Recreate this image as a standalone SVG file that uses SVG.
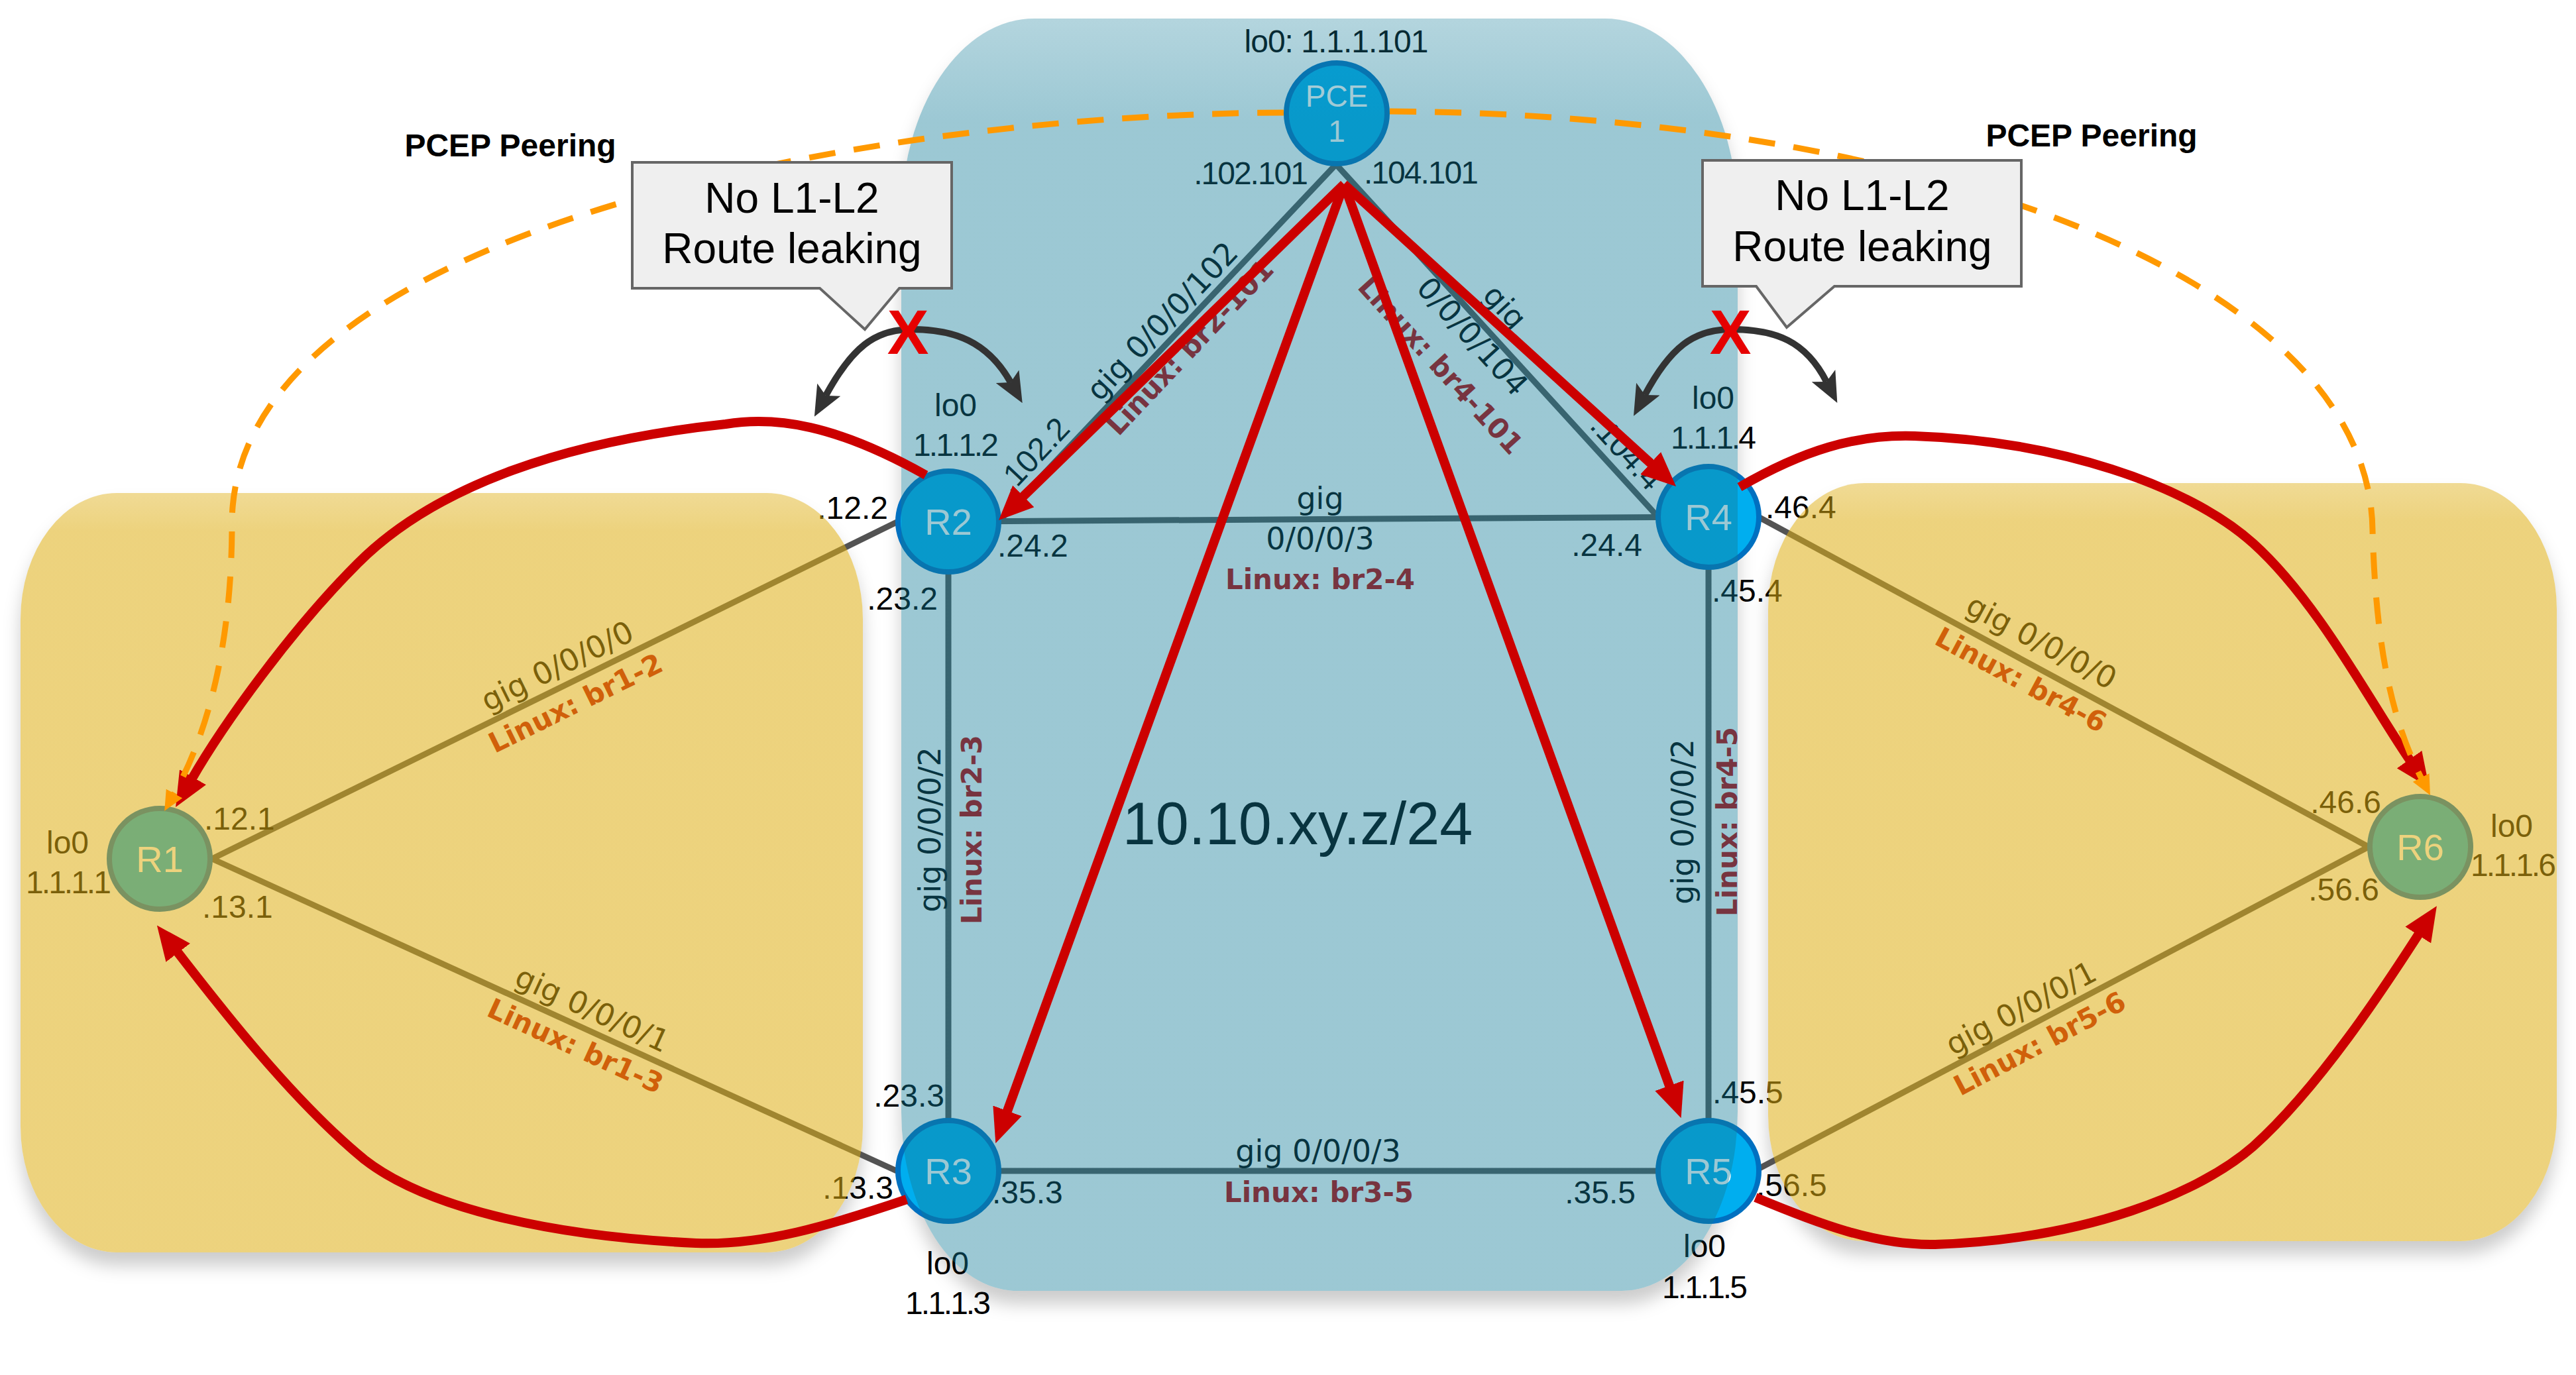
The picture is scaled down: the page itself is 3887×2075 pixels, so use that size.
<svg xmlns="http://www.w3.org/2000/svg" width="3887" height="2075" viewBox="0 0 3887 2075">
<style>
.ip{font-family:"Liberation Sans",Arial,sans-serif;font-size:48px;fill:#000}
.one{letter-spacing:-3px}
.lk{font-family:"DejaVu Sans",sans-serif;font-size:46px;fill:#000}
.lx{font-family:"DejaVu Sans",sans-serif;font-size:42px;font-weight:bold;fill:#c00000}
.mid{text-anchor:middle}
.end{text-anchor:end}
.nd{fill:#00aeef;stroke:#0070c0;stroke-width:8}
.nt{font-family:"Liberation Sans",Arial,sans-serif;font-size:56px;fill:#fff;text-anchor:middle}
.link{stroke:#535353;stroke-width:9;fill:none}
.red{stroke:#cc0000;stroke-width:14;fill:none;marker-end:url(#redHead)}
.org{stroke:#ff9900;stroke-width:9;fill:none;stroke-dasharray:40 28;marker-end:url(#orgHead)}
.blk{stroke:#333;stroke-width:10;fill:none;marker-start:url(#blkHead);marker-end:url(#blkHead)}
.callout{fill:#efefef;stroke:#666;stroke-width:4}
.ct{font-family:"Liberation Sans",Arial,sans-serif;font-size:64px;text-anchor:middle;fill:#000}
.pcep{font-family:"Liberation Sans",Arial,sans-serif;font-size:48px;font-weight:bold;text-anchor:middle;fill:#000}
.xx{font-family:"Liberation Sans",Arial,sans-serif;font-size:94px;font-weight:bold;fill:#e60000;text-anchor:middle}
.ylw{fill:url(#ygrad)}
</style>
<defs>
<marker id="redHead" markerUnits="userSpaceOnUse" markerWidth="52" markerHeight="46" viewBox="0 0 52 46" refX="6" refY="23" orient="auto"><path d="M0,0 L52,23 L0,46 z" fill="#cc0000"/></marker>
<marker id="orgHead" markerUnits="userSpaceOnUse" markerWidth="30" markerHeight="28" viewBox="0 0 30 28" refX="4" refY="14" orient="auto"><path d="M0,0 L30,14 L0,28 z" fill="#ff9900"/></marker>
<marker id="blkHead" markerUnits="userSpaceOnUse" markerWidth="46" markerHeight="40" viewBox="0 0 46 40" refX="10" refY="20" orient="auto-start-reverse"><path d="M0,0 L46,20 L0,40 L10,20 z" fill="#333"/></marker>
<linearGradient id="ygrad" x1="0" y1="0" x2="0" y2="1"><stop offset="0" stop-color="#deae13" stop-opacity="0.45"/><stop offset="0.05" stop-color="#deae13" stop-opacity="0.55"/><stop offset="1" stop-color="#deae13" stop-opacity="0.55"/></linearGradient>
<linearGradient id="bgrad" x1="0" y1="0" x2="0" y2="1"><stop offset="0" stop-color="#137c98" stop-opacity="0.32"/><stop offset="0.08" stop-color="#137c98" stop-opacity="0.42"/><stop offset="1" stop-color="#137c98" stop-opacity="0.42"/></linearGradient>
<filter id="blur" x="-10%" y="-10%" width="120%" height="120%"><feGaussianBlur stdDeviation="13"/></filter>
<path id="blueShape" d="M1560,28 H2422 A200,300 0 0 1 2622,328 V1678 A175,270 0 0 1 2447,1948 H1535 A175,270 0 0 1 1360,1678 V328 A200,300 0 0 1 1560,28 Z"/>
<path id="yLeftShape" d="M176,744 H1157 A145,190 0 0 1 1302,934 V1700 A145,190 0 0 1 1157,1890 H176 A145,190 0 0 1 31,1700 V934 A145,190 0 0 1 176,744 Z"/>
<path id="yRightShape" d="M2813,729 H3713 A145,190 0 0 1 3858,919 V1683 A145,190 0 0 1 3713,1873 H2813 A145,190 0 0 1 2668,1683 V919 A145,190 0 0 1 2813,729 Z"/>
<mask id="outside" maskUnits="userSpaceOnUse" x="0" y="0" width="3887" height="2075">
<rect x="0" y="0" width="3887" height="2075" fill="#fff"/>
<use href="#blueShape" fill="#000"/><use href="#yLeftShape" fill="#000"/><use href="#yRightShape" fill="#000"/>
</mask>
</defs>
<rect x="0" y="0" width="3887" height="2075" fill="#fff"/>

<g id="shadows" mask="url(#outside)">
<g filter="url(#blur)" fill="#000" fill-opacity="0.2" transform="translate(0,20)">
<use href="#blueShape"/><use href="#yLeftShape"/><use href="#yRightShape"/>
</g>
</g>

<g id="connectors">
<line class="link" x1="2016" y1="248" x2="1509" y2="785"/>
<line class="link" x1="2016" y1="248" x2="2498" y2="776"/>
<line class="link" x1="1431" y1="787" x2="2578" y2="780"/>
<line class="link" x1="1431" y1="787" x2="1431" y2="1767"/>
<line class="link" x1="2578" y1="780" x2="2578" y2="1767"/>
<line class="link" x1="1431" y1="1767" x2="2578" y2="1767"/>
<line class="link" x1="320" y1="1296" x2="1353" y2="788"/>
<line class="link" x1="320" y1="1296" x2="1353" y2="1767"/>
<line class="link" x1="2655" y1="781" x2="3574" y2="1278"/>
<line class="link" x1="2655" y1="1763" x2="3574" y2="1278"/>
</g>

<g id="link-labels">
<text class="lk mid" transform="translate(1774,504) rotate(-46.7)" y="-12">gig 0/0/0/102</text>
<text class="lx mid" transform="translate(1774,504) rotate(-46.7)" y="44">Linux: br2-101</text>
<text class="ip mid" transform="translate(1582,708) rotate(-46.7)" y="-15">.102.2</text>
<text class="lk mid" transform="translate(2239,492) rotate(47.6)" y="-27">gig</text>
<text class="lk mid" transform="translate(2239,492) rotate(47.6)" y="39">0/0/0/104</text>
<text class="lx mid" transform="translate(2239,492) rotate(47.6)" y="103">Linux: br4-101</text>
<text class="ip mid" transform="translate(2432,703) rotate(47.6)" y="-14">.104.4</text>
<text class="lk mid" x="1992" y="768">gig</text>
<text class="lk mid" x="1992" y="829">0/0/0/3</text>
<text class="lx mid" x="1992" y="889">Linux: br2-4</text>
<text class="lk mid" x="1989" y="1753">gig 0/0/0/3</text>
<text class="lx mid" x="1990" y="1814">Linux: br3-5</text>
<text class="lk mid" transform="translate(1419,1252) rotate(-90)">gig 0/0/0/2</text>
<text class="lx mid" transform="translate(1481,1252) rotate(-90)">Linux: br2-3</text>
<text class="lk mid" transform="translate(2555,1240) rotate(-90)">gig 0/0/0/2</text>
<text class="lx mid" transform="translate(2621,1240) rotate(-90)">Linux: br4-5</text>
<text class="lk mid" transform="translate(854,1032) rotate(-26.2)" y="-14">gig 0/0/0/0</text>
<text class="lx mid" transform="translate(854,1032) rotate(-26.2)" y="47">Linux: br1-2</text>
<text class="lk mid" transform="translate(881,1551) rotate(24.6)" y="-15">gig 0/0/0/1</text>
<text class="lx mid" transform="translate(881,1551) rotate(24.6)" y="45">Linux: br1-3</text>
<text class="lk mid" transform="translate(3063,1001) rotate(28.3)" y="-21">gig 0/0/0/0</text>
<text class="lx mid" transform="translate(3063,1001) rotate(28.3)" y="43">Linux: br4-6</text>
<text class="lk mid" transform="translate(3063,1547) rotate(-27.8)" y="-13">gig 0/0/0/1</text>
<text class="lx mid" transform="translate(3063,1547) rotate(-27.8)" y="46">Linux: br5-6</text>
<text class="ip mid" x="1958" y="1274" style="font-size:90px">10.10.xy.z/24</text>
</g>

<g id="node-PCE1">
<circle class="nd" cx="2017" cy="171" r="76"/>
<text class="nt" x="2017" y="161" style="font-size:46px">PCE</text>
<text class="nt" x="2017" y="214" style="font-size:46px">1</text>
<text class="ip mid" x="2016" y="79" style="letter-spacing:-1px">lo0: 1.1.1.101</text>
<text class="ip end" x="1972" y="278" style="letter-spacing:-2px">.102.101</text>
<text class="ip" x="2058" y="277" style="letter-spacing:-2px">.104.101</text>
</g>
<g id="node-R2">
<circle class="nd" cx="1431" cy="787" r="76"/>
<text class="nt" x="1431" y="807">R2</text>
<text class="ip mid" x="1442" y="628">lo0</text>
<text class="ip mid one" x="1441" y="688">1.1.1.2</text>
<text class="ip end" x="1340" y="783">.12.2</text>
<text class="ip" x="1505" y="840">.24.2</text>
<text class="ip end" x="1415" y="920">.23.2</text>
</g>
<g id="node-R4">
<circle class="nd" cx="2578" cy="780" r="76"/>
<text class="nt" x="2578" y="800">R4</text>
<text class="ip mid" x="2585" y="617">lo0</text>
<text class="ip mid one" x="2584" y="677">1.1.1.4</text>
<text class="ip end" x="2478" y="839">.24.4</text>
<text class="ip" x="2664" y="782">.46.4</text>
<text class="ip" x="2583" y="908">.45.4</text>
</g>
<g id="node-R3">
<circle class="nd" cx="1431" cy="1767" r="76"/>
<text class="nt" x="1431" y="1787">R3</text>
<text class="ip end" x="1425" y="1670">.23.3</text>
<text class="ip end" x="1348" y="1809">.13.3</text>
<text class="ip" x="1497" y="1816">.35.3</text>
<text class="ip mid" x="1430" y="1923">lo0</text>
<text class="ip mid one" x="1429" y="1983">1.1.1.3</text>
</g>
<g id="node-R5">
<circle class="nd" cx="2578" cy="1767" r="76"/>
<text class="nt" x="2578" y="1787">R5</text>
<text class="ip" x="2584" y="1665">.45.5</text>
<text class="ip end" x="2468" y="1816">.35.5</text>
<text class="ip" x="2650" y="1805">.56.5</text>
<text class="ip mid" x="2572" y="1897">lo0</text>
<text class="ip mid one" x="2571" y="1959">1.1.1.5</text>
</g>
<g id="node-R1">
<circle class="nd" cx="241" cy="1296" r="76"/>
<text class="nt" x="241" y="1316">R1</text>
<text class="ip mid" x="102" y="1288">lo0</text>
<text class="ip mid one" x="102" y="1348">1.1.1.1</text>
<text class="ip" x="308" y="1252">.12.1</text>
<text class="ip" x="305" y="1385">.13.1</text>
</g>
<g id="node-R6">
<circle class="nd" cx="3652" cy="1278" r="76"/>
<text class="nt" x="3652" y="1298">R6</text>
<text class="ip end" x="3593" y="1227">.46.6</text>
<text class="ip end" x="3590" y="1359">.56.6</text>
<text class="ip mid" x="3790" y="1263">lo0</text>
<text class="ip mid one" x="3791" y="1322">1.1.1.6</text>
</g>

<g id="regions">
<use href="#yLeftShape" class="ylw"/>
<use href="#yRightShape" class="ylw"/>
<use href="#blueShape" fill="url(#bgrad)"/>
</g>

<g id="paths">
<line class="red" x1="2028" y1="278" x2="1540" y2="753"/>
<line class="red" x1="2028" y1="278" x2="2495" y2="703"/>
<line class="red" x1="2028" y1="278" x2="1518" y2="1682"/>
<line class="red" x1="2028" y1="278" x2="2521" y2="1644"/>
<path class="red" d="M1397,717 C1260,640 1170,628 1095,640 C860,665 660,730 540,850 C440,950 338,1091 288,1178"/>
<path class="red" d="M1368,1810 C1250,1850 1150,1880 1050,1876 C820,1865 640,1820 550,1750 C440,1660 326,1512 265,1433"/>
<path class="red" d="M2625,735 C2720,680 2800,655 2889,658 C3100,665 3300,730 3400,820 C3500,910 3582,1070 3639,1151"/>
<path class="red" d="M2649,1807 C2740,1845 2830,1880 2920,1878 C3150,1870 3320,1800 3400,1730 C3500,1640 3598,1490 3652,1406"/>
<path class="org" d="M1937,170 C1300,172 350,350 350,790 C350,960 318,1100 261,1201"/>
<path class="org" d="M2097,168 C2900,172 3575,420 3580,800 C3585,980 3610,1090 3655,1177"/>
<path class="blk" d="M1246,597 C1285,525 1320,497 1375,497 C1440,497 1490,515 1525,577"/>
<path class="blk" d="M2482,596 C2520,525 2555,497 2612,497 C2680,497 2725,515 2756,576"/>
</g>

<g id="callout-left">
<path class="callout" d="M954,245 H1436 V435 H1357 L1305,497 L1237,435 H954 Z"/>
<text class="ct" x="1195" y="321">No L1-L2</text>
<text class="ct" x="1195" y="397">Route leaking</text>
</g>
<g id="callout-right">
<path class="callout" d="M2569,242 H3050 V432 H2768 L2696,494 L2650,432 H2569 Z"/>
<text class="ct" x="2810" y="317">No L1-L2</text>
<text class="ct" x="2810" y="394">Route leaking</text>
</g>
<text class="pcep" x="770" y="236">PCEP Peering</text>
<text class="pcep" x="3156" y="221">PCEP Peering</text>
<text class="xx" x="1370" y="534">X</text>
<text class="xx" x="2611" y="534">X</text>
</svg>
